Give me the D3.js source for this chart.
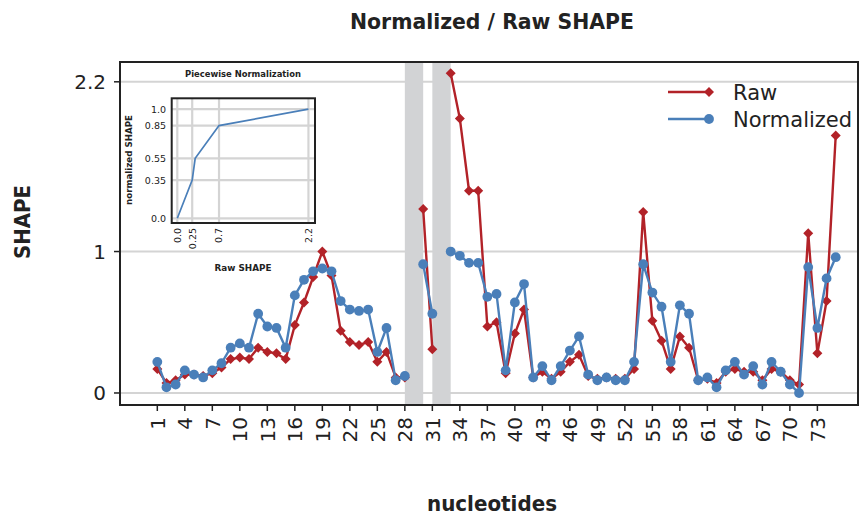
<!DOCTYPE html>
<html>
<head>
<meta charset="utf-8">
<script src="https://cdn.jsdelivr.net/npm/d3@7"></script>
<style>
  body { margin: 0; background: #fff; }
  svg { display: block; font-family: "DejaVu Sans", sans-serif; }
</style>
</head>
<body>
<div id="chart"></div>
<script>
// ---- data ----
const nucleotides = d3.range(1, 76)
const missing = [29, 32]
const rawShape = [0.17,0.07,0.09,0.13,0.13,0.12,0.14,0.18,0.24,0.25,
                  0.24,0.32,0.29,0.28,0.24,0.48,0.64,0.82,1.00,0.83,
                  0.44,0.36,0.34,0.36,0.22,0.29,0.11,0.11,null,1.30,
                  0.31,null,2.26,1.94,1.43,1.43,0.47,0.50,0.14,0.42,
                  0.59,0.11,0.15,0.10,0.15,0.22,0.27,0.12,0.10,0.11,
                  0.10,0.10,0.17,1.28,0.51,0.37,0.17,0.40,0.32,0.09,
                  0.10,0.07,0.15,0.17,0.15,0.15,0.09,0.17,0.15,0.09,
                  0.06,1.13,0.28,0.65,1.82]
const normShape = [0.22,0.04,0.06,0.16,0.13,0.11,0.16,0.21,0.32,0.35,
                   0.32,0.56,0.47,0.46,0.32,0.69,0.80,0.86,0.88,0.86,
                   0.65,0.59,0.58,0.59,0.29,0.46,0.09,0.12,null,0.91,
                   0.56,null,1.00,0.97,0.92,0.92,0.68,0.70,0.16,0.64,
                   0.77,0.11,0.19,0.09,0.19,0.30,0.40,0.13,0.09,0.11,
                   0.09,0.09,0.22,0.91,0.71,0.61,0.22,0.62,0.56,0.09,
                   0.11,0.04,0.16,0.22,0.13,0.19,0.06,0.22,0.15,0.06,
                   0.00,0.89,0.46,0.81,0.96]
const xTicks = d3.range(1, 74, 3)
const yTicks = [0, 1, 2.2]

// inset: piecewise normalization
const pwRaw = [0, 0.25, 0.3, 0.7, 2.2]
const pwNorm = [0, 0.35, 0.55, 0.85, 1.0]
const pwXTicks = [0.0, 0.25, 0.7, 2.2]
const pwYTicks = [0.0, 0.35, 0.55, 0.85, 1.0]

const RED = "#b22228", BLUE = "#4a7fb9", GRID = "#d4d4d4"

const W = 859, H = 516
const margin = { top: 62, right: 1, bottom: 111, left: 120 }

const svg = d3.select("#chart").append("svg")
    .attr("width", W).attr("height", H)

const x = d3.scaleLinear().domain([-3.07, 77.43]).range([margin.left, W - margin.right])
const y = d3.scaleLinear().domain([-0.085, 2.34]).range([H - margin.bottom, margin.top])

// gridlines
svg.append("g").selectAll("line").data(yTicks).enter().append("line")
    .attr("x1", margin.left).attr("x2", W - margin.right)
    .attr("y1", d => y(d)).attr("y2", d => y(d))
    .attr("stroke", GRID).attr("stroke-width", 2)

// missing nucleotides
svg.append("g").selectAll("rect").data(missing).enter().append("rect")
    .attr("x", d => x(d - 1)).attr("width", d => x(d + 1) - x(d - 1))
    .attr("y", margin.top).attr("height", H - margin.bottom - margin.top)
    .attr("fill", "#d2d3d5")

const diamond = r => `M0,${-r}L${r},0L0,${r}L${-r},0Z`

function series(vals, color, shape) {
    const pts = nucleotides.map((n, i) => ({ n: n, v: vals[i] }))
    const line = d3.line().defined(d => d.v != null).x(d => x(d.n)).y(d => y(d.v))
    const g = svg.append("g")
    g.append("path").datum(pts).attr("d", line)
        .attr("fill", "none").attr("stroke", color).attr("stroke-width", 2.4)
    const m = pts.filter(d => d.v != null)
    if (shape === "diamond") {
        g.selectAll("path.m").data(m).enter().append("path").attr("class", "m")
            .attr("d", diamond(5))
            .attr("transform", d => `translate(${x(d.n)},${y(d.v)})`)
            .attr("fill", color)
    } else {
        g.selectAll("circle").data(m).enter().append("circle")
            .attr("cx", d => x(d.n)).attr("cy", d => y(d.v)).attr("r", 4.9)
            .attr("fill", color)
    }
}
series(rawShape, RED, "diamond")
series(normShape, BLUE, "circle")

// frame
svg.append("rect")
    .attr("x", margin.left).attr("y", margin.top)
    .attr("width", W - margin.right - margin.left).attr("height", H - margin.bottom - margin.top)
    .attr("fill", "none").attr("stroke", "#222").attr("stroke-width", 2)

// y axis
const yax = svg.append("g")
yax.selectAll("line").data(yTicks).enter().append("line")
    .attr("x1", margin.left - 6).attr("x2", margin.left)
    .attr("y1", d => y(d)).attr("y2", d => y(d))
    .attr("stroke", "#222").attr("stroke-width", 1.5)
yax.selectAll("text").data(yTicks).enter().append("text")
    .attr("x", margin.left - 14).attr("y", d => y(d)).attr("dy", "0.36em")
    .attr("text-anchor", "end").attr("font-size", 20).attr("fill", "#222")
    .text(d => d)

// x axis
const xb = H - margin.bottom
const xax = svg.append("g")
xax.selectAll("line").data(xTicks).enter().append("line")
    .attr("x1", d => x(d)).attr("x2", d => x(d))
    .attr("y1", xb).attr("y2", xb + 6)
    .attr("stroke", "#222").attr("stroke-width", 1.5)
xax.selectAll("text").data(xTicks).enter().append("text")
    .attr("transform", d => `translate(${x(d)},${xb + 12}) rotate(-90)`)
    .attr("dy", "0.36em")
    .attr("text-anchor", "end").attr("font-size", 20).attr("fill", "#222")
    .text(d => d)

// titles
svg.append("text").attr("x", 492).attr("y", 29)
    .attr("text-anchor", "middle").attr("font-size", 22).attr("font-weight", "bold")
    .attr("textLength", 284).attr("lengthAdjust", "spacingAndGlyphs")
    .attr("fill", "#222").text("Normalized / Raw SHAPE")
svg.append("text").attr("x", 492).attr("y", 511)
    .attr("text-anchor", "middle").attr("font-size", 21).attr("font-weight", "bold")
    .attr("textLength", 130).attr("lengthAdjust", "spacingAndGlyphs")
    .attr("fill", "#222").text("nucleotides")
svg.append("text").attr("transform", "translate(30,222) rotate(-90)")
    .attr("text-anchor", "middle").attr("font-size", 22).attr("font-weight", "bold")
    .attr("textLength", 74).attr("lengthAdjust", "spacingAndGlyphs")
    .attr("fill", "#222").text("SHAPE")

// legend
const legend = [{ name: "Raw", color: RED, shape: "diamond" },
                { name: "Normalized", color: BLUE, shape: "circle" }]
const lg = svg.append("g").selectAll("g").data(legend).enter().append("g")
    .attr("transform", (d, i) => `translate(0,${92 + i * 27})`)
lg.append("line").attr("x1", 668).attr("x2", 709)
    .attr("stroke", d => d.color).attr("stroke-width", 2.4)
lg.filter(d => d.shape === "diamond").append("path")
    .attr("d", diamond(5)).attr("transform", "translate(709,0)").attr("fill", d => d.color)
lg.filter(d => d.shape === "circle").append("circle")
    .attr("cx", 709).attr("r", 4.9).attr("fill", d => d.color)
lg.append("text").attr("x", 733).attr("dy", "0.36em")
    .attr("font-size", 21).attr("fill", "#222").text(d => d.name)

// ---- inset ----
const ix = d3.scaleLinear().domain([-0.094, 2.31]).range([171.7, 315])
const iy = d3.scaleLinear().domain([-0.043, 1.1]).range([223, 98.3])
const inset = svg.append("g")
inset.append("rect").attr("x", ix.range()[0]).attr("y", iy.range()[1])
    .attr("width", ix.range()[1] - ix.range()[0]).attr("height", iy.range()[0] - iy.range()[1])
    .attr("fill", "#fff")
inset.selectAll("line.gx").data(pwXTicks).enter().append("line").attr("class", "gx")
    .attr("x1", d => ix(d)).attr("x2", d => ix(d))
    .attr("y1", iy.range()[0]).attr("y2", iy.range()[1])
    .attr("stroke", GRID).attr("stroke-width", 2.2)
inset.selectAll("line.gy").data(pwYTicks).enter().append("line").attr("class", "gy")
    .attr("y1", d => iy(d)).attr("y2", d => iy(d))
    .attr("x1", ix.range()[0]).attr("x2", ix.range()[1])
    .attr("stroke", GRID).attr("stroke-width", 2.2)
inset.append("path")
    .datum(pwRaw.map((r, i) => [r, pwNorm[i]]))
    .attr("d", d3.line().x(d => ix(d[0])).y(d => iy(d[1])))
    .attr("fill", "none").attr("stroke", BLUE).attr("stroke-width", 1.7)
inset.append("rect").attr("x", ix.range()[0]).attr("y", iy.range()[1])
    .attr("width", ix.range()[1] - ix.range()[0]).attr("height", iy.range()[0] - iy.range()[1])
    .attr("fill", "none").attr("stroke", "#222").attr("stroke-width", 2)
inset.selectAll("text.ty").data(pwYTicks).enter().append("text").attr("class", "ty")
    .attr("x", 166).attr("y", d => iy(d)).attr("dy", "0.36em")
    .attr("text-anchor", "end").attr("font-size", 9.5).attr("fill", "#222")
    .text(d => d === 0 ? "0.0" : d === 1 ? "1.0" : d)
inset.selectAll("text.tx").data(pwXTicks).enter().append("text").attr("class", "tx")
    .attr("transform", d => `translate(${ix(d)},228) rotate(-90)`)
    .attr("dy", "0.36em")
    .attr("text-anchor", "end").attr("font-size", 9.5).attr("fill", "#222")
    .text(d => d === 0 ? "0.0" : d)
inset.append("text").attr("x", 243).attr("y", 77)
    .attr("text-anchor", "middle").attr("font-size", 9).attr("font-weight", "bold")
    .attr("textLength", 116).attr("lengthAdjust", "spacingAndGlyphs")
    .attr("fill", "#222").text("Piecewise Normalization")
inset.append("text").attr("x", 243).attr("y", 271)
    .attr("text-anchor", "middle").attr("font-size", 9).attr("font-weight", "bold")
    .attr("textLength", 57).attr("lengthAdjust", "spacingAndGlyphs")
    .attr("fill", "#222").text("Raw SHAPE")
inset.append("text").attr("transform", "translate(132,160) rotate(-90)")
    .attr("text-anchor", "middle").attr("font-size", 8).attr("font-weight", "bold")
    .attr("textLength", 90).attr("lengthAdjust", "spacingAndGlyphs")
    .attr("fill", "#222").text("normalized SHAPE")
</script>
</body>
</html>
